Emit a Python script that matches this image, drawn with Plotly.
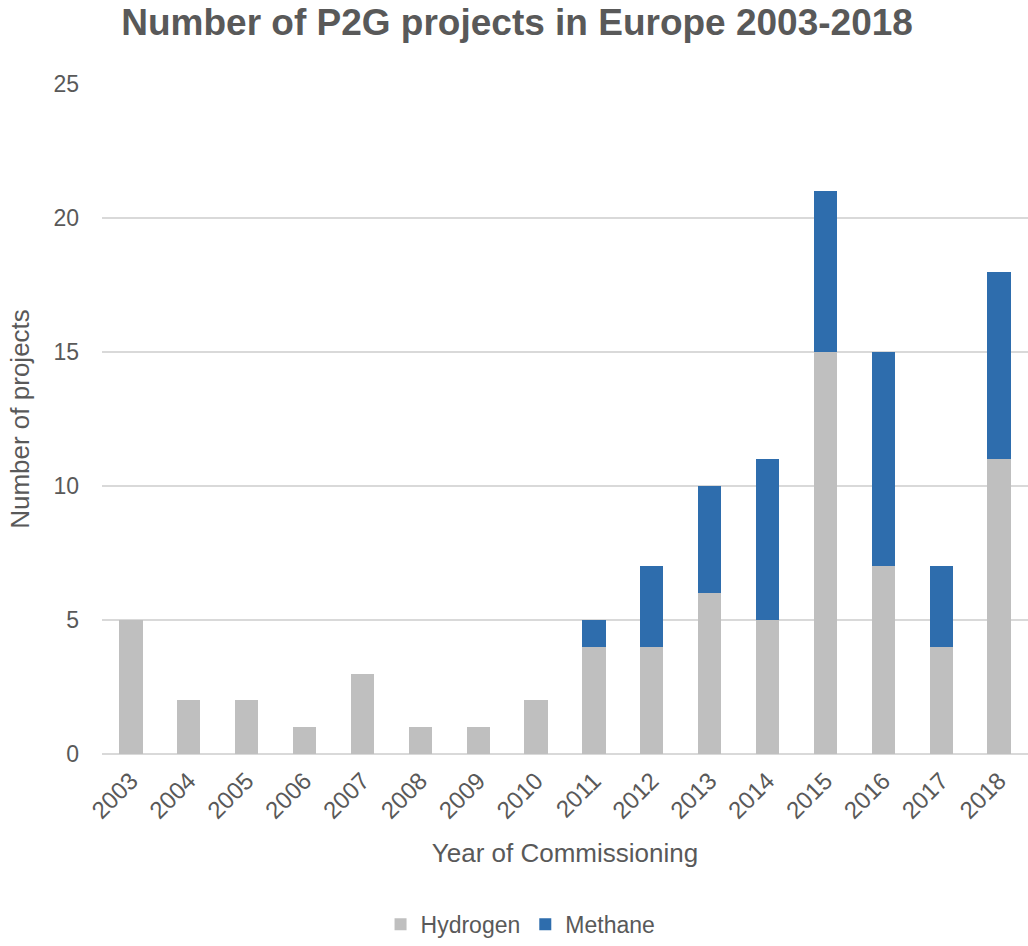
import plotly.graph_objects as go

years = ["2003", "2004", "2005", "2006", "2007", "2008", "2009", "2010",
         "2011", "2012", "2013", "2014", "2015", "2016", "2017", "2018"]
hydrogen = [5, 2, 2, 1, 3, 1, 1, 2, 4, 4, 6, 5, 15, 7, 4, 11]
methane = [0, 0, 0, 0, 0, 0, 0, 0, 1, 3, 4, 6, 6, 8, 3, 7]
y_ticks = [0, 5, 10, 15, 20, 25]

text_color = "#595959"
font_family = "Arial"

fig = go.Figure()
fig.add_trace(go.Bar(x=years, y=hydrogen, name="Hydrogen", marker_color="#BFBFBF",
                     marker_line_width=0))
fig.add_trace(go.Bar(x=years, y=methane, name="Methane", marker_color="#2E6DAD",
                     marker_line_width=0))

fig.update_layout(
    barmode="stack",
    bargap=0.6,
    width=1028,
    height=946,
    margin=dict(l=102, r=0, t=84, b=184),
    paper_bgcolor="white",
    plot_bgcolor="white",
    font=dict(family=font_family, color=text_color),
    title=dict(text="<b>Number of P2G projects in Europe 2003-2018</b>",
               x=0.503, xanchor="center", y=0.977, yanchor="middle",
               font=dict(size=37, color=text_color, family=font_family)),
    xaxis=dict(
        automargin=False,
        tickangle=-45,
        tickfont=dict(size=24, color=text_color, family=font_family),
        ticklabelstandoff=7,
        title=dict(text="Year of Commissioning",
                   font=dict(size=26, color=text_color, family=font_family),
                   standoff=21),
        showgrid=False,
        showline=False,
        ticks="",
    ),
    yaxis=dict(
        automargin=False,
        range=[0, 25],
        tickvals=y_ticks,
        tickfont=dict(size=23, color=text_color, family=font_family),
        title=dict(text="Number of projects",
                   font=dict(size=26, color=text_color, family=font_family),
                   standoff=16),
        gridcolor="#D9D9D9",
        gridwidth=1.5,
        zeroline=True,
        zerolinecolor="#D9D9D9",
        zerolinewidth=1.5,
        ticks="",
        ticklabelstandoff=22,
    ),
    legend=dict(orientation="h", x=0.452, xanchor="center", y=-0.254, yanchor="middle",
                font=dict(size=23, color=text_color, family=font_family),
                traceorder="normal", itemwidth=30),
)

fig.write_html("out.html")
